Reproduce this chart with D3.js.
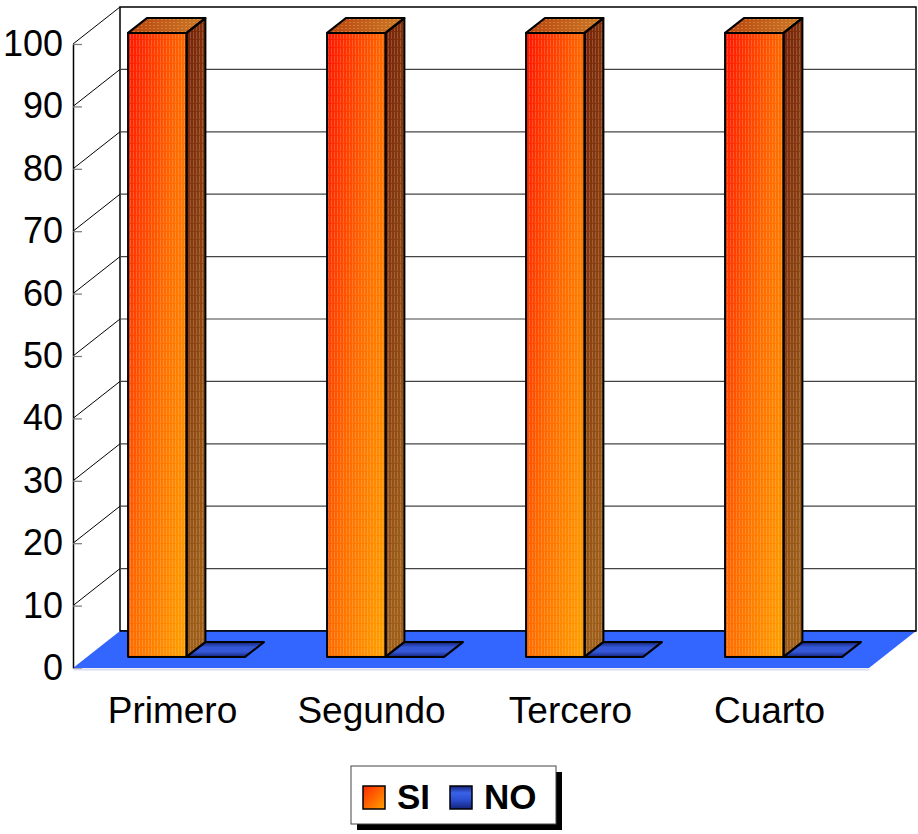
<!DOCTYPE html>
<html>
<head>
<meta charset="utf-8">
<script src="https://cdn.jsdelivr.net/npm/d3@7/dist/d3.min.js"></script>
<style>
  html, body { margin: 0; padding: 0; background: #fff; }
  svg { display: block; }
  text { font-family: "Liberation Sans", Arial, sans-serif; }
</style>
</head>
<body>
<svg id="chart" width="918" height="834"></svg>
<script>
// Chart data
const categories = ["Primero", "Segundo", "Tercero", "Cuarto"];
const seriesNames = ["SI", "NO"];
const siValues = [100, 100, 100, 100];
const noValues = [0, 0, 0, 0];
const yTicks = [0, 10, 20, 30, 40, 50, 60, 70, 80, 90, 100];

(function () {
const svg = d3.select("#chart");
const defs = svg.append("defs");

// Front plane of the 3D box and its depth vector
const plotLeft = 73, plotRight = 869, plotBottom = 668, plotTop = 44;
const depthX = 47, depthY = -37;
const barFront = 0.3, barBack = 0.7;

const y = d3.scaleLinear().domain([0, 100]).range([plotBottom, plotTop]);
const xCat = d3.scaleBand().domain(categories).range([plotLeft, plotRight]).padding(0);
const xSeries = d3.scaleBand().domain(seriesNames).range([0, xCat.bandwidth()])
  .paddingInner(0).paddingOuter(0.7);

const proj = (x, yy, d) => [x + d * depthX, yy + d * depthY];
const poly = pts => "M" + pts.map(p => p.join(",")).join("L") + "Z";

// Gradients and textures
function linGrad(id, stops, x2 = 1, y2 = 1) {
  const g = defs.append("linearGradient").attr("id", id)
    .attr("x1", 0).attr("y1", 0).attr("x2", x2).attr("y2", y2);
  stops.forEach(([o, c]) => g.append("stop").attr("offset", o).attr("stop-color", c));
}
linGrad("siFront", [[0, "#ff1500"], [0.5, "#ff6a00"], [1, "#ffa200"]], 1, 1);
linGrad("siSide", [[0, "#762006"], [1, "#9e5e18"]], 0.3, 1);
linGrad("siTop", [[0, "#b8440f"], [1, "#cc7a28"]], 1, 0);
linGrad("noFlat", [[0, "#14237a"], [0.35, "#3558d8"], [0.65, "#3558d8"], [1, "#14237a"]], 0, 1);
linGrad("siSwatch", [[0, "#ff2a00"], [1, "#ffa000"]], 1, 1);
linGrad("noSwatch", [[0, "#14237a"], [0.3, "#3a62e8"], [0.6, "#2c4fd0"], [1, "#14237a"]], 0, 1);

const stripes = defs.append("pattern").attr("id", "stripes")
  .attr("patternUnits", "userSpaceOnUse").attr("width", 3).attr("height", 8);
stripes.append("rect").attr("x", 1).attr("y", 0).attr("width", 1).attr("height", 7)
  .attr("fill", "#ffffff").attr("opacity", 0.18);

const dots = defs.append("pattern").attr("id", "dots")
  .attr("patternUnits", "userSpaceOnUse").attr("width", 4).attr("height", 3);
dots.append("rect").attr("x", 1).attr("y", 1).attr("width", 2).attr("height", 1)
  .attr("fill", "#ffd080").attr("opacity", 0.3);

// Back wall
const g = svg.append("g");
g.append("path")
  .attr("d", poly([proj(plotLeft, y(100), 1), proj(plotRight, y(100), 1), proj(plotRight, y(0), 1), proj(plotLeft, y(0), 1)]))
  .attr("fill", "#fff").attr("stroke", "#000").attr("stroke-width", 1.5);

// Gridlines on the back wall and the left wall
g.selectAll(".grid").data(yTicks.filter(t => t > 0 && t < 100)).join("line")
  .attr("x1", d => proj(plotLeft, y(d), 1)[0]).attr("y1", d => proj(plotLeft, y(d), 1)[1])
  .attr("x2", d => proj(plotRight, y(d), 1)[0]).attr("y2", d => proj(plotRight, y(d), 1)[1])
  .attr("stroke", "#444").attr("stroke-width", 1.2);
g.selectAll(".side").data(yTicks.filter(t => t > 0)).join("line")
  .attr("x1", plotLeft).attr("y1", d => y(d))
  .attr("x2", d => proj(plotLeft, y(d), 1)[0]).attr("y2", d => proj(plotLeft, y(d), 1)[1])
  .attr("stroke", "#000").attr("stroke-width", 1);

// Floor
g.append("path")
  .attr("d", poly([proj(plotLeft, y(0), 0), proj(plotRight, y(0), 0), proj(plotRight, y(0), 1), proj(plotLeft, y(0), 1)]))
  .attr("fill", "#3366ff");
g.append("line")
  .attr("x1", proj(plotLeft, y(0), 1)[0]).attr("y1", proj(plotLeft, y(0), 1)[1])
  .attr("x2", proj(plotRight, y(0), 1)[0]).attr("y2", proj(plotRight, y(0), 1)[1])
  .attr("stroke", "#000").attr("stroke-width", 1.5);

// Y axis on the front-left edge, ticks pointing inward
const yAxis = d3.axisLeft(y).tickValues(yTicks).tickSizeInner(-9).tickSizeOuter(0).tickPadding(10);
const ya = svg.append("g").attr("transform", `translate(${plotLeft},0)`).call(yAxis);
ya.select(".domain").attr("stroke", "#000").attr("stroke-width", 1.5);
ya.selectAll(".tick line").attr("stroke", "#777").attr("stroke-width", 1.2);
ya.selectAll(".tick text").attr("font-size", 36).attr("fill", "#000")
  .attr("font-family", "'Liberation Sans', Arial, sans-serif");

// Category axis along the floor's front edge
const xAxis = d3.axisBottom(xCat).tickSize(0).tickPadding(28);
const xa = svg.append("g").attr("transform", `translate(0,${plotBottom + 1})`).call(xAxis);
xa.select(".domain").attr("stroke", "#dcdcf0").attr("stroke-width", 2);
xa.selectAll(".tick text").attr("font-size", 37).attr("fill", "#000")
  .attr("font-family", "'Liberation Sans', Arial, sans-serif");

// Bars
const rows = categories.map((c, i) => ({ cat: c, SI: siValues[i], NO: noValues[i] }));
const bars = svg.append("g");

rows.forEach(r => {
  seriesNames.forEach(s => {
    const v = r[s];
    const x0 = xCat(r.cat) + xSeries(s);
    const x1 = x0 + xSeries.bandwidth();
    const y0 = y(0), yv = y(v);
    const fbl = proj(x0, y0, barFront), fbr = proj(x1, y0, barFront);
    const ftl = proj(x0, yv, barFront), ftr = proj(x1, yv, barFront);
    const btl = proj(x0, yv, barBack), btr = proj(x1, yv, barBack), bbr = proj(x1, y0, barBack);
    const bg = bars.append("g");
    if (s === "SI") {
      bg.append("path").attr("d", poly([ftl, ftr, fbr, fbl])).attr("fill", "url(#siFront)");
      bg.append("path").attr("d", poly([ftl, ftr, fbr, fbl])).attr("fill", "url(#stripes)");
      bg.append("path").attr("d", poly([ftr, btr, bbr, fbr])).attr("fill", "url(#siSide)");
      bg.append("path").attr("d", poly([ftr, btr, bbr, fbr])).attr("fill", "url(#stripes)");
      bg.append("path").attr("d", poly([ftl, btl, btr, ftr])).attr("fill", "url(#siTop)");
      bg.append("path").attr("d", poly([ftl, btl, btr, ftr])).attr("fill", "url(#dots)");
      bg.selectAll("path.edge").data([[ftl, ftr, fbr, fbl], [ftr, btr, bbr, fbr], [ftl, btl, btr, ftr]])
        .join("path").attr("class", "edge").attr("d", poly)
        .attr("fill", "none").attr("stroke", "#000").attr("stroke-width", 2).attr("stroke-linejoin", "round");
    } else {
      bg.append("path").attr("d", poly([ftl, btl, btr, ftr]))
        .attr("fill", "url(#noFlat)").attr("stroke", "#000").attr("stroke-width", 2)
        .attr("stroke-linejoin", "round");
    }
  });
});

// Legend with drop shadow
const lg = svg.append("g").attr("transform", "translate(351,766)");
lg.append("rect").attr("x", 6).attr("y", 6).attr("width", 205).attr("height", 58).attr("fill", "#000");
lg.append("rect").attr("x", 0).attr("y", 0).attr("width", 205).attr("height", 58)
  .attr("fill", "#fff").attr("stroke", "#444").attr("stroke-width", 1);
const legendItems = [
  { name: seriesNames[0], fill: "url(#siSwatch)", sx: 12, tx: 46 },
  { name: seriesNames[1], fill: "url(#noSwatch)", sx: 99, tx: 133 }
];
legendItems.forEach(it => {
  lg.append("rect").attr("x", it.sx).attr("y", 20).attr("width", 22).attr("height", 23)
    .attr("fill", it.fill).attr("stroke", "#000").attr("stroke-width", 1.5);
  lg.append("text").attr("x", it.tx).attr("y", 43).text(it.name)
    .attr("font-size", 35).attr("font-weight", "bold").attr("fill", "#000");
});
})();
</script>
</body>
</html>
